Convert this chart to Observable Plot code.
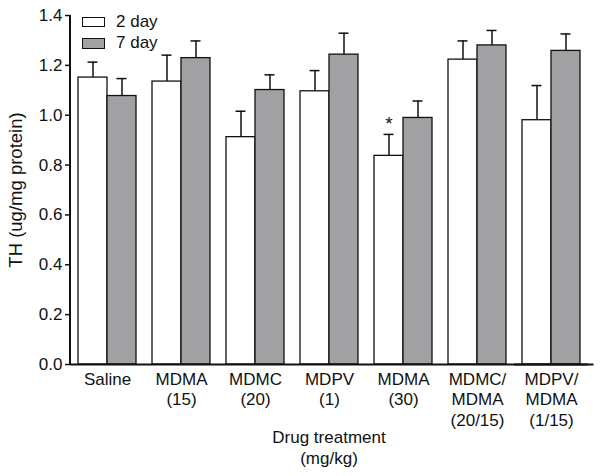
<!DOCTYPE html>
<html>
<head>
<meta charset="utf-8">
<script src="https://cdn.jsdelivr.net/npm/d3@7"></script>
<script src="https://cdn.jsdelivr.net/npm/@observablehq/plot@0.6"></script>
<style>
  html, body { margin: 0; padding: 0; background: #fff; }
  #wrap { position: relative; width: 604px; height: 476px; font-family: "Liberation Sans", Arial, Helvetica, sans-serif; color: #111; }
  #legend { position: absolute; left: 82px; top: 11px; font-size: 17px; }
  .item { display: flex; align-items: center; height: 21.5px; }
  .sw { width: 21px; height: 8.5px; border: 1.2px solid #111; margin-right: 11px; }
  #xtitle { position: absolute; left: 229px; width: 200px; top: 428px; text-align: center; font-size: 17px; line-height: 20.7px; }
</style>
</head>
<body>
<div id="wrap"><div id="legend"></div><div id="xtitle"></div></div>
<script>
// ---- data ----
const groups = ["Saline", "MDMA\n(15)", "MDMC\n(20)", "MDPV\n(1)", "MDMA\n(30)", "MDMC/\nMDMA\n(20/15)", "MDPV/\nMDMA\n(1/15)"];
const series = ["2 day", "7 day"];
const seriesColors = ["#ffffff", "#a1a1a4"];
const mean2day = [1.151, 1.135, 0.912, 1.096, 0.837, 1.223, 0.980];
const sem2day  = [0.062, 0.106, 0.104, 0.083, 0.086, 0.075, 0.139];
const mean7day = [1.077, 1.229, 1.101, 1.243, 0.989, 1.280, 1.258];
const sem7day  = [0.070, 0.069, 0.061, 0.086, 0.068, 0.060, 0.068];
const significant = [{group: "MDMA\n(30)", series: "2 day"}];
const yTicks = [0, 0.2, 0.4, 0.6, 0.8, 1.0, 1.2, 1.4];
const xTitleLines = ["Drug treatment", "(mg/kg)"];
const yTitle = "TH (ug/mg protein)";

const rows = [];
groups.forEach((g, i) => {
  rows.push({group: g, series: series[0], mean: mean2day[i], sem: sem2day[i]});
  rows.push({group: g, series: series[1], mean: mean7day[i], sem: sem7day[i]});
});
const errTop = d => d.mean + d.sem;
const stars = significant.map(s => rows.find(r => r.group === s.group && r.series === s.series));

const font = "Liberation Sans, Arial, Helvetica, sans-serif";
const ink = "#111";

const chart = Plot.plot({
  width: 604,
  height: 476,
  marginLeft: 70,
  marginRight: 6,
  marginTop: 15,
  marginBottom: 112,
  style: {fontFamily: font, fontSize: "17px", color: ink, background: "white"},
  fx: {domain: groups, paddingInner: 0, paddingOuter: 0.034, align: 0},
  x: {domain: series, paddingInner: 0, paddingOuter: 0.245, axis: null},
  y: {domain: [0, 1.4]},
  color: {domain: series, range: seriesColors},
  marks: [
    Plot.barY(rows, {fx: "group", x: "series", y: "mean", fill: "series", stroke: ink, strokeWidth: 1.3}),
    Plot.ruleX(rows, {fx: "group", x: "series", y1: "mean", y2: errTop, stroke: ink, strokeWidth: 1.5}),
    Plot.tickY(rows, {fx: "group", x: "series", y: errTop, stroke: ink, strokeWidth: 1.5, insetLeft: 9.5, insetRight: 9.5}),
    Plot.text(stars, {fx: "group", x: "series", y: errTop, text: () => "*", dy: -11, fontSize: 19, fill: ink}),
    Plot.axisY({ticks: yTicks, tickFormat: d3.format(".1f"), tickSize: 5, tickPadding: 3, strokeWidth: 1.5, fontSize: 17,
      label: null}),
    Plot.axisY({ticks: [], tickSize: 0, fontSize: 18.5,
      label: yTitle, labelAnchor: "center", labelArrow: "none", labelOffset: 62}),
    Plot.axisFx({anchor: "bottom", tickSize: 0, tickPadding: 6, lineHeight: 1.2, fontSize: 17, label: null}),
    Plot.ruleY([0], {stroke: ink, strokeWidth: 2}),
    Plot.ruleY([0], {facetAnchor: "right", insetRight: -5.5, stroke: ink, strokeWidth: 2})
  ]
});
document.getElementById("wrap").prepend(chart);

// y-axis domain line, placed from the plot's own scales
const fxRange = chart.scale("fx").range;
const yRange = chart.scale("y").range;
d3.select(chart).append("line")
  .attr("x1", fxRange[0]).attr("x2", fxRange[0])
  .attr("y1", yRange[0] + 1).attr("y2", yRange[1])
  .attr("stroke", ink).attr("stroke-width", 2);

// x-axis title
d3.select("#xtitle").selectAll("div").data(xTitleLines).join("div").text(d => d);

// legend
const legend = d3.select("#legend");
series.forEach((s, i) => {
  const item = legend.append("div").attr("class", "item");
  item.append("div").attr("class", "sw").style("background", seriesColors[i]);
  item.append("span").text(s);
});
</script>
</body>
</html>
